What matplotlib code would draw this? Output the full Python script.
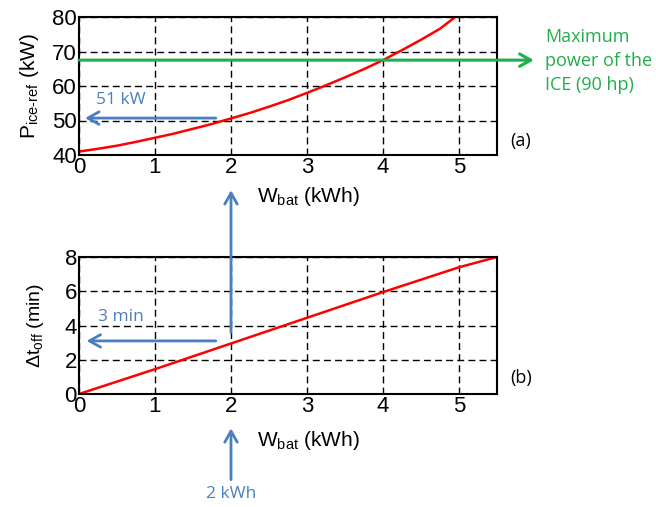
import matplotlib.pyplot as plt
from matplotlib.patches import ConnectionPatch

plt.rcParams['font.family'] = ['Liberation Sans', 'DejaVu Sans']
plt.rcParams['mathtext.fontset'] = 'custom'
plt.rcParams['mathtext.rm'] = 'Liberation Sans'
plt.rcParams['mathtext.it'] = 'Liberation Sans'

# (a) reference ICE power vs battery energy
w_top = [0, 0.25, 0.5, 0.75, 1, 1.25, 1.5, 1.75, 2, 2.25, 2.5, 2.75, 3,
         3.25, 3.5, 3.75, 4, 4.25, 4.5, 4.75, 4.95]
p_ref = [41, 41.8, 42.7, 43.8, 45, 46.2, 47.6, 49.0, 50.6, 52.2, 54.0, 55.9, 58.0,
         60.2, 62.5, 64.9, 67.5, 70.4, 73.4, 76.6, 80]
p_max = 67.5

# (b) engine-off time vs battery energy
w_bot = [0, 1, 2, 3, 4, 5, 5.5]
t_off = [0, 1.45, 2.95, 4.45, 5.95, 7.4, 8.0]

w_sel = 2
p_sel = 50.7
t_sel = 3.1

BLUE = '#4A7EBF'
GREEN = '#1DB04A'
ANN_FONT = ['Open Sans', 'DejaVu Sans']

fig = plt.figure(figsize=(6.56, 5.07), dpi=100)
ax1 = fig.add_axes([79/656, 1-155/507, 418/656, 138/507])
ax2 = fig.add_axes([79/656, 1-394/507, 418/656, 137/507])

for ax in (ax1, ax2):
    ax.set_xlim(0, 5.5)
    ax.set_xticks([0, 1, 2, 3, 4, 5])
    ax.grid(True, color='black', linestyle=(0, (5, 3)), linewidth=1)
    ax.tick_params(length=0, labelsize=16, pad=1.5)
    for s in ax.spines.values():
        s.set_linewidth(1.5)

ax1.set_ylim(40, 80)
ax1.set_yticks([40, 50, 60, 70, 80])
ax2.set_ylim(0, 8)
ax2.set_yticks([0, 2, 4, 6, 8])

ax1.plot(w_top, p_ref, color='red', linewidth=1.8)
ax2.plot(w_bot, t_off, color='red', linewidth=1.8)

ax1.set_ylabel(r'P$_{\mathregular{ice\text{-}ref}}$ (kW)', fontsize=15, labelpad=8)
ax2.set_ylabel(r'$\Delta$t$_{\mathregular{off}}$ (min)', fontsize=14, labelpad=13)

fig.text(308/656, 1-197/507, r'W$_{\mathregular{bat}}$ (kWh)', fontsize=15, ha='center', va='center')
fig.text(308/656, 1-440/507, r'W$_{\mathregular{bat}}$ (kWh)', fontsize=15, ha='center', va='center')

fig.text(521/656, 1-141/507, '(a)', fontsize=13, ha='center', va='center', family=ANN_FONT)
fig.text(521/656, 1-378/507, '(b)', fontsize=13, ha='center', va='center', family=ANN_FONT)

# green max power line with arrow outside the axes
ax1.annotate('', xy=(1.088, p_max), xycoords=('axes fraction', 'data'),
             xytext=(0, p_max), textcoords='data', annotation_clip=False,
             arrowprops=dict(arrowstyle='->,head_length=0.8,head_width=0.45',
                             color=GREEN, lw=2.2, shrinkA=0, shrinkB=0))
fig.text(545/656, 1-61/507, 'Maximum\npower of the\nICE (90 hp)', fontsize=13,
         color=GREEN, ha='left', va='center', linespacing=1.45, family=ANN_FONT)

# blue arrows
blue_arrow = dict(arrowstyle='->,head_length=0.8,head_width=0.45',
                  color=BLUE, lw=2, shrinkA=0, shrinkB=0)
ax1.annotate('', xy=(0.08, p_sel), xytext=(1.8, p_sel), arrowprops=blue_arrow)
ax1.text(0.55, 56, '51 kW', color=BLUE, fontsize=12.5, ha='center', va='center', family=ANN_FONT)

ax2.annotate('', xy=(0.1, t_sel), xytext=(1.8, t_sel), arrowprops=blue_arrow)
ax2.text(0.55, 4.5, '3 min', color=BLUE, fontsize=12.5, ha='center', va='center', family=ANN_FONT)

fig.add_artist(ConnectionPatch(
    xyA=(w_sel, 3.6), coordsA=ax2.transData, xyB=(w_sel, 29.8), coordsB=ax1.transData,
    arrowstyle='->,head_length=0.8,head_width=0.45', color=BLUE, lw=2,
    shrinkA=0, shrinkB=0))

ax2.annotate('', xy=(w_sel, -2.0), xytext=(w_sel, -5.0), annotation_clip=False,
             arrowprops=blue_arrow)
ax2.text(w_sel, -5.85, '2 kWh', color=BLUE, fontsize=12.5, ha='center', va='center',
         family=ANN_FONT, clip_on=False)

fig.savefig('out.png', dpi=100)
